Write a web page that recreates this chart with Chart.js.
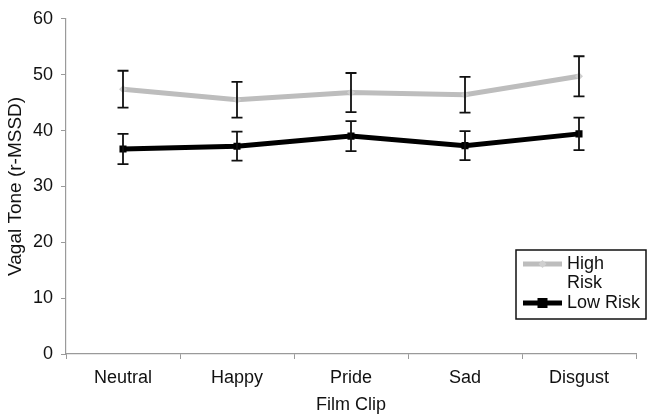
<!DOCTYPE html>
<html>
<head>
<meta charset="utf-8">
<script src="https://cdn.jsdelivr.net/npm/chart.js@4.4.0/dist/chart.umd.min.js"></script>
<style>
  html, body { margin: 0; padding: 0; background: #fff; }
  #wrap { width: 647px; height: 417px; }
</style>
</head>
<body>
<div id="wrap"><canvas id="chart" width="647" height="417"></canvas></div>
<script>
// values
const filmClips = ['Neutral', 'Happy', 'Pride', 'Sad', 'Disgust'];
const highRisk = [47.4, 45.5, 46.8, 46.4, 49.7];
const highRiskErr = [3.3, 3.2, 3.5, 3.2, 3.6];
const lowRisk = [36.7, 37.2, 39.0, 37.3, 39.4];
const lowRiskErr = [2.7, 2.6, 2.7, 2.6, 2.9];
const yTicks = [0, 10, 20, 30, 40, 50, 60];

const FONT = 'Liberation Sans, Arial, sans-serif';
const AXIS_GREY = '#9a9a9a';

// whiskers drawn from the scales, after the lines
const errorBars = {
    id: 'errorBars',
    afterDatasetsDraw(chart) {
        const ctx = chart.ctx;
        const x = chart.scales.x;
        const y = chart.scales.y;
        ctx.save();
        ctx.strokeStyle = '#111';
        ctx.lineWidth = 1.8;
        chart.data.datasets.forEach(ds => {
            ds.data.forEach((v, i) => {
                const e = ds.errors[i];
                const px = x.getPixelForValue(i);
                const top = y.getPixelForValue(v + e);
                const bot = y.getPixelForValue(v - e);
                ctx.beginPath();
                ctx.moveTo(px, top); ctx.lineTo(px, bot);
                ctx.moveTo(px - 5.5, top); ctx.lineTo(px + 5.5, top);
                ctx.moveTo(px - 5.5, bot); ctx.lineTo(px + 5.5, bot);
                ctx.stroke();
            });
        });
        ctx.restore();
    }
};

// boxed legend in the lower right, labels wrap like the original
const boxLegend = {
    id: 'boxLegend',
    afterDraw(chart) {
        const ctx = chart.ctx;
        const left = 516, top = 250, right = 646, bottom = 319;
        ctx.save();
        ctx.fillStyle = '#fff';
        ctx.fillRect(left, top, right - left, bottom - top);
        ctx.strokeStyle = '#111';
        ctx.lineWidth = 1.5;
        ctx.strokeRect(left, top, right - left, bottom - top);

        ctx.font = '18px ' + FONT;
        ctx.textBaseline = 'middle';
        let lineY = 264;
        chart.data.datasets.forEach(ds => {
            // sample line
            ctx.strokeStyle = ds.borderColor;
            ctx.lineWidth = ds.borderWidth;
            ctx.beginPath();
            ctx.moveTo(523, lineY); ctx.lineTo(562, lineY);
            ctx.stroke();
            ctx.fillStyle = ds.pointBackgroundColor;
            const r = ds.pointRadius;
            if (ds.pointStyle === 'rect') {
                ctx.fillRect(542.5 - r, lineY - r, r * 2, r * 2);
            } else {
                ctx.beginPath();
                ctx.moveTo(542.5, lineY - r); ctx.lineTo(542.5 + r, lineY);
                ctx.lineTo(542.5, lineY + r); ctx.lineTo(542.5 - r, lineY);
                ctx.closePath(); ctx.fill();
            }
            // wrapped text
            const words = ds.label.split(' ');
            const lines = [];
            let cur = '';
            words.forEach(w => {
                const test = cur ? cur + ' ' + w : w;
                if (cur && ctx.measureText(test).width > 75) { lines.push(cur); cur = w; }
                else cur = test;
            });
            lines.push(cur);
            ctx.fillStyle = '#111';
            lines.forEach(l => { ctx.fillText(l, 567, lineY); lineY += 19.5; });
        });
        ctx.restore();
    }
};

new Chart(document.getElementById('chart'), {
    type: 'line',
    data: {
        labels: filmClips,
        datasets: [
            {
                label: 'High Risk',
                data: highRisk,
                errors: highRiskErr,
                borderColor: '#bdbdbd',
                borderWidth: 5,
                pointStyle: 'rectRot',
                pointRadius: 4,
                pointBackgroundColor: '#cfcfcf',
                pointBorderWidth: 0,
                tension: 0
            },
            {
                label: 'Low Risk',
                data: lowRisk,
                errors: lowRiskErr,
                borderColor: '#000',
                borderWidth: 5,
                pointStyle: 'rect',
                pointRadius: 5,
                pointBackgroundColor: '#000',
                pointBorderWidth: 0,
                tension: 0
            }
        ]
    },
    options: {
        responsive: false,
        animation: false,
        layout: { padding: { top: 15, right: 11, left: 0, bottom: 0 } },
        plugins: {
            legend: { display: false },
            tooltip: { enabled: false }
        },
        scales: {
            x: {
                offset: true,
                grid: { offset: true, drawOnChartArea: false, tickLength: 5, color: AXIS_GREY },
                border: { color: AXIS_GREY, width: 1.2 },
                ticks: { color: '#111', padding: 8, font: { family: FONT, size: 18 } },
                title: {
                    display: true, text: 'Film Clip', color: '#111',
                    font: { family: FONT, size: 18 }, padding: { top: 0, bottom: 1 }
                },
                afterFit(scale) { scale.height = 63; }
            },
            y: {
                min: 0,
                max: 60,
                afterBuildTicks(scale) { scale.ticks = yTicks.map(v => ({ value: v })); },
                grid: { drawOnChartArea: false, tickLength: 5, color: AXIS_GREY },
                border: { color: AXIS_GREY, width: 1.2 },
                ticks: { color: '#111', padding: 8, font: { family: FONT, size: 18 } },
                title: {
                    display: true, text: 'Vagal Tone (r-MSSD)', color: '#111',
                    font: { family: FONT, size: 19 }, padding: { top: 4, bottom: 0 }
                },
                afterFit(scale) { scale.width = 66; }
            }
        }
    },
    plugins: [errorBars, boxLegend]
});
</script>
</body>
</html>
